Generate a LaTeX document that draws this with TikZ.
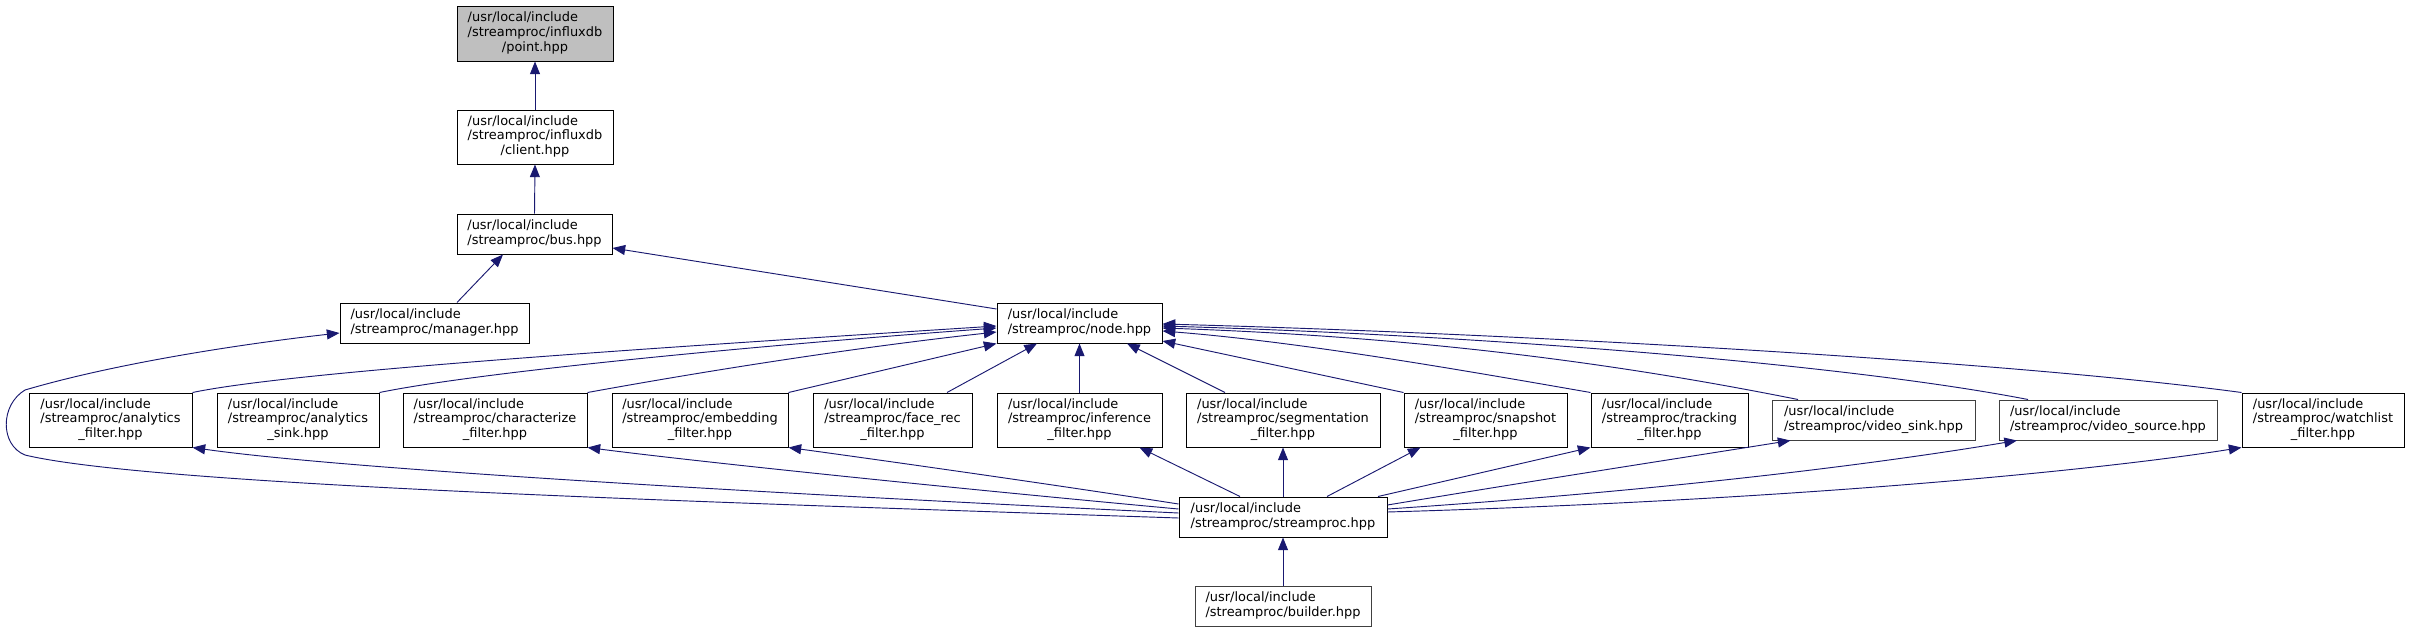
\documentclass[tikz,border=0pt]{standalone}
\usepackage{fontspec}
\setmainfont{DejaVu Sans}
\usetikzlibrary{arrows.meta}
\definecolor{edgeblue}{HTML}{191970}
\definecolor{hl}{HTML}{BFBFBF}
\definecolor{dk}{HTML}{404040}
\newcommand\twol[2]{\begin{tabular}{@{}l@{}}#1\\#2\end{tabular}}
\newcommand\threel[3]{\begin{tabular}{@{}l@{}}#1\\#2\\\multicolumn{1}{@{}c@{}}{#3}\end{tabular}}
\begin{document}
\begin{tikzpicture}[x=0.75pt,y=-0.75pt,
 box/.style={draw=black, line width=0.75pt, fill=white, inner sep=0pt, font=\fontsize{9.7}{11}\selectfont},
 bthree/.style={box, minimum height=40.5pt},
 btwo/.style={box, minimum height=30pt},
 dk/.style={draw=dk},
 dep/.style={draw=edgeblue, line width=0.7pt, -{Triangle[length=9.5pt,width=7.5pt]}}]
\path[use as bounding box] (0,0) rectangle (2410,632);

\node[bthree, minimum height=41.25pt, minimum width=117pt, fill=hl] (point) at (535,33.5) {\threel{/usr/local/include}{/streamproc/influxdb}{/point.hpp}};
\node[bthree, minimum width=117pt] (client) at (535,137) {\threel{/usr/local/include}{/streamproc/influxdb}{/client.hpp}};
\node[btwo, minimum width=116.25pt] (bus) at (534.5,234) {\twol{/usr/local/include}{/streamproc/bus.hpp}};
\node[btwo, minimum width=141.75pt] (manager) at (434.5,323) {\twol{/usr/local/include}{/streamproc/manager.hpp}};
\node[btwo, minimum width=123.75pt] (node) at (1079.5,323) {\twol{/usr/local/include}{/streamproc/node.hpp}};

\node[bthree, minimum width=122.25pt] (af) at (110.5,420) {\threel{/usr/local/include}{/streamproc/analytics}{\_filter.hpp}};
\node[bthree, minimum width=121.5pt] (as) at (298,420) {\threel{/usr/local/include}{/streamproc/analytics}{\_sink.hpp}};
\node[bthree, minimum width=138pt] (ch) at (495,420) {\threel{/usr/local/include}{/streamproc/characterize}{\_filter.hpp}};
\node[bthree, minimum width=132pt] (em) at (700,420) {\threel{/usr/local/include}{/streamproc/embedding}{\_filter.hpp}};
\node[bthree, minimum width=119.25pt] (fr) at (892.5,420) {\threel{/usr/local/include}{/streamproc/face\_rec}{\_filter.hpp}};
\node[bthree, minimum width=123.75pt] (inf) at (1079.5,420) {\threel{/usr/local/include}{/streamproc/inference}{\_filter.hpp}};
\node[bthree, minimum width=145.5pt] (seg) at (1283,420) {\threel{/usr/local/include}{/streamproc/segmentation}{\_filter.hpp}};
\node[bthree, minimum width=122.25pt] (snap) at (1485.5,420) {\threel{/usr/local/include}{/streamproc/snapshot}{\_filter.hpp}};
\node[bthree, minimum width=117.75pt] (trk) at (1669.5,420) {\threel{/usr/local/include}{/streamproc/tracking}{\_filter.hpp}};
\node[btwo, dk, minimum width=152.25pt] (vsink) at (1873.5,420) {\twol{/usr/local/include}{/streamproc/video\_sink.hpp}};
\node[btwo, dk, minimum width=163.5pt] (vsrc) at (2108,420) {\twol{/usr/local/include}{/streamproc/video\_source.hpp}};
\node[bthree, minimum width=121.5pt] (wl) at (2323,420) {\threel{/usr/local/include}{/streamproc/watchlist}{\_filter.hpp}};

\node[btwo, minimum width=156pt] (sp) at (1283,517) {\twol{/usr/local/include}{/streamproc/streamproc.hpp}};
\node[btwo, dk, minimum width=132pt] (bld) at (1283,606) {\twol{/usr/local/include}{/streamproc/builder.hpp}};

% upper chain
\draw[dep] (client.north) -- (point.south);
\draw[dep] (bus.north) -- (client.south);
\draw[dep] ([shift={(22.5,0)}]manager.north) -- ([shift={(-31.5,0)}]bus.south);
\draw[dep] ([shift={(0,-14)}]node.west) -- ([shift={(0,14)}]bus.east);

% to node.hpp
\draw[dep] (af.north east) .. controls (300,370) and (700,345) .. ([shift={(0,3)}]node.west);
\draw[dep] (as.north east) .. controls (480,372) and (750,346) .. ([shift={(0,5)}]node.west);
\draw[dep] (ch.north east) .. controls (700,372) and (850,348) .. ([shift={(0,9)}]node.west);
\draw[dep] (em.north east) -- (node.south west);
\draw[dep] ([shift={(54.5,0)}]fr.north) -- ([shift={(-42.5,0)}]node.south);
\draw[dep] (inf.north) -- (node.south);
\draw[dep] ([shift={(-58,0)}]seg.north) -- ([shift={(47.5,0)}]node.south);
\draw[dep] (snap.north west) -- ([shift={(0,18)}]node.east);
\draw[dep] (trk.north west) .. controls (1450,368) and (1300,342) .. ([shift={(0,8)}]node.east);
\draw[dep] ([shift={(-75.5,0)}]vsink.north) .. controls (1650,370) and (1450,338) .. ([shift={(0,5)}]node.east);
\draw[dep] ([shift={(-80,0)}]vsrc.north) .. controls (1850,365) and (1500,336) .. ([shift={(0,3)}]node.east);
\draw[dep] (wl.north west) .. controls (2000,360) and (1500,333) .. ([shift={(0,1)}]node.east);

% from streamproc.hpp
\draw[dep] ([shift={(0,1)}]sp.west) .. controls (700,502) and (150,485) .. (25,455)
   .. controls (0,445) and (0,405) .. (25,390)
   .. controls (120,362) and (250,343) .. ([shift={(0,10)}]manager.west);
\draw[dep] ([shift={(0,-4)}]sp.west) .. controls (800,495) and (350,470) .. (af.south east);
\draw[dep] ([shift={(0,-8)}]sp.west) .. controls (950,488) and (700,462) .. (ch.south east);
\draw[dep] ([shift={(0,-13)}]sp.west) .. controls (1050,484) and (880,460) .. (em.south east);
\draw[dep] ([shift={(-43,0)}]sp.north) -- ([shift={(60,0)}]inf.south);
\draw[dep] (sp.north) -- (seg.south);
\draw[dep] ([shift={(44,0)}]sp.north) -- ([shift={(-65,0)}]snap.south);
\draw[dep] ([shift={(95,0)}]sp.north) -- (trk.south west);
\draw[dep] ([shift={(0,-12)}]sp.east) .. controls (1550,478) and (1700,455) .. ([shift={(-83,0)}]vsink.south);
\draw[dep] ([shift={(0,-8)}]sp.east) .. controls (1700,488) and (1900,460) .. ([shift={(-91,0)}]vsrc.south);
\draw[dep] ([shift={(0,-5)}]sp.east) .. controls (1800,500) and (2100,470) .. (wl.south west);
\draw[dep] (bld.north) -- (sp.south);
\end{tikzpicture}
\end{document}
